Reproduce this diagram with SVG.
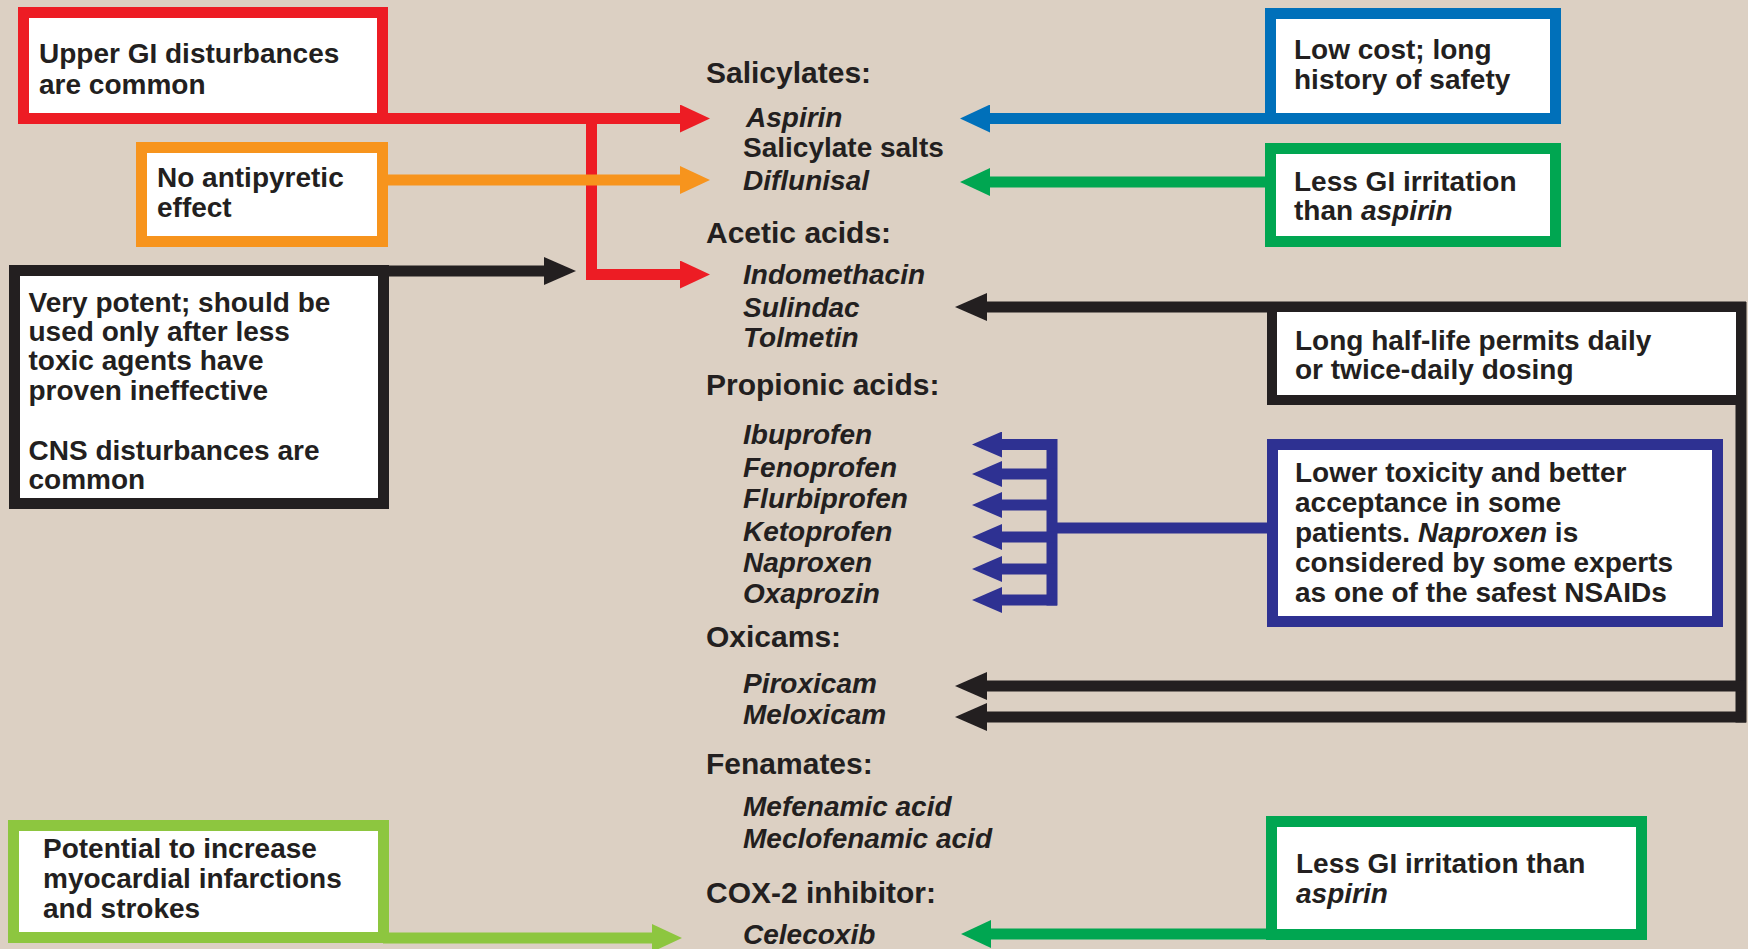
<svg xmlns="http://www.w3.org/2000/svg" width="1748" height="949" viewBox="0 0 1748 949">
<style>
  .bg { fill: #dcd0c3; }
  .box { fill: #ffffff; stroke-width: 11; }
  .t { font-family: "Liberation Sans", Arial, sans-serif; font-weight: bold; fill: #231f20; }
  .bt { font-size: 28px; }
  .hd { font-size: 30px; }
  .dr { font-size: 28px; font-style: italic; }
  .up { font-style: normal; }
  .it { font-style: italic; }
  .ln { fill: none; stroke-width: 11; stroke-linecap: butt; stroke-linejoin: miter; }
  .red { stroke: #ed1c24; }
  .orange { stroke: #f7941d; }
  .blue { stroke: #0070ba; }
  .green { stroke: #00a651; }
  .navy { stroke: #2e3192; }
  .lgreen { stroke: #8dc63f; }
  .black { stroke: #231f20; }
</style>
<defs>
  <marker id="ah-red" viewBox="0 -14 30 28" refX="1" refY="0" markerWidth="30" markerHeight="28" markerUnits="userSpaceOnUse" orient="auto"><path d="M0,-14 L30,0 L0,14 Z" fill="#ed1c24"/></marker>
  <marker id="ah-orange" viewBox="0 -14 30 28" refX="1" refY="0" markerWidth="30" markerHeight="28" markerUnits="userSpaceOnUse" orient="auto"><path d="M0,-14 L30,0 L0,14 Z" fill="#f7941d"/></marker>
  <marker id="ah-blue" viewBox="0 -14 30 28" refX="1" refY="0" markerWidth="30" markerHeight="28" markerUnits="userSpaceOnUse" orient="auto"><path d="M0,-14 L30,0 L0,14 Z" fill="#0070ba"/></marker>
  <marker id="ah-green" viewBox="0 -14 30 28" refX="1" refY="0" markerWidth="30" markerHeight="28" markerUnits="userSpaceOnUse" orient="auto"><path d="M0,-14 L30,0 L0,14 Z" fill="#00a651"/></marker>
  <marker id="ah-navy" viewBox="0 -13 30 26" refX="1" refY="0" markerWidth="30" markerHeight="26" markerUnits="userSpaceOnUse" orient="auto"><path d="M0,-13 L30,0 L0,13 Z" fill="#2e3192"/></marker>
  <marker id="ah-lgreen" viewBox="0 -14 30 28" refX="1" refY="0" markerWidth="30" markerHeight="28" markerUnits="userSpaceOnUse" orient="auto"><path d="M0,-14 L30,0 L0,14 Z" fill="#8dc63f"/></marker>
  <marker id="ah-black" viewBox="0 -14 32 28" refX="1" refY="0" markerWidth="32" markerHeight="28" markerUnits="userSpaceOnUse" orient="auto"><path d="M0,-14 L32,0 L0,14 Z" fill="#231f20"/></marker>
</defs>
<rect class="bg" x="0" y="0" width="1748" height="949"/>

<g id="connectors">
  <path class="ln red" d="M383,118.5 H681" marker-end="url(#ah-red)"/>
  <path class="ln red" d="M591.5,113 V274.5 H681" marker-end="url(#ah-red)"/>
  <path class="ln orange" d="M383,180 H681" marker-end="url(#ah-orange)"/>
  <path class="ln black" d="M383,271 H545" marker-end="url(#ah-black)"/>
  <path class="ln blue" d="M1270,118.5 H989" marker-end="url(#ah-blue)"/>
  <path class="ln green" d="M1270,182 H989" marker-end="url(#ah-green)"/>
  <path class="ln black" d="M1746,307 H986" marker-end="url(#ah-black)"/>
  <path class="ln black" d="M1741,302 V722.5"/>
  <path class="ln black" d="M1746,686 H986" marker-end="url(#ah-black)"/>
  <path class="ln black" d="M1746,717 H986" marker-end="url(#ah-black)"/>
  <path class="ln navy" d="M1270,528 H1052"/>
  <path class="ln navy" d="M1052,439 V605.5"/>
  <path class="ln navy" d="M1057,444.5 H1001" marker-end="url(#ah-navy)"/>
  <path class="ln navy" d="M1057,474 H1001" marker-end="url(#ah-navy)"/>
  <path class="ln navy" d="M1057,505 H1001" marker-end="url(#ah-navy)"/>
  <path class="ln navy" d="M1057,537 H1001" marker-end="url(#ah-navy)"/>
  <path class="ln navy" d="M1057,569 H1001" marker-end="url(#ah-navy)"/>
  <path class="ln navy" d="M1057,600 H1001" marker-end="url(#ah-navy)"/>
  <path class="ln green" d="M1270,934 H990" marker-end="url(#ah-green)"/>
  <path class="ln lgreen" d="M383,938 H653" marker-end="url(#ah-lgreen)"/>
</g>

<g id="node-upper-gi">
  <rect class="box red" x="23.5" y="12.5" width="359" height="106"/>
  <text class="t bt" x="39" y="63">Upper GI disturbances</text>
  <text class="t bt" x="39" y="93.5">are common</text>
</g>

<g id="node-no-antipyretic">
  <rect class="box orange" x="141.5" y="147.5" width="241" height="94"/>
  <text class="t bt" x="157" y="187">No antipyretic</text>
  <text class="t bt" x="157" y="217">effect</text>
</g>

<g id="node-very-potent">
  <rect class="box black" x="14.5" y="270.5" width="369" height="233"/>
  <text class="t bt" x="28.5" y="311.5">Very potent; should be</text>
  <text class="t bt" x="28.5" y="340.5">used only after less</text>
  <text class="t bt" x="28.5" y="370">toxic agents have</text>
  <text class="t bt" x="28.5" y="400">proven ineffective</text>
  <text class="t bt" x="28.5" y="460">CNS disturbances are</text>
  <text class="t bt" x="28.5" y="489">common</text>
</g>

<g id="node-cardio">
  <rect class="box lgreen" x="13.5" y="825.5" width="370" height="112"/>
  <text class="t bt" x="43" y="858">Potential to increase</text>
  <text class="t bt" x="43" y="888">myocardial infarctions</text>
  <text class="t bt" x="43" y="918">and strokes</text>
</g>

<g id="node-low-cost">
  <rect class="box blue" x="1270.5" y="13.5" width="285" height="105"/>
  <text class="t bt" x="1294" y="59">Low cost; long</text>
  <text class="t bt" x="1294" y="89">history of safety</text>
</g>

<g id="node-less-gi-1">
  <rect class="box green" x="1270.5" y="148.5" width="285" height="93"/>
  <text class="t bt" x="1294" y="190.5">Less GI irritation</text>
  <text class="t bt" x="1294" y="220">than <tspan class="it">aspirin</tspan></text>
</g>

<g id="node-long-half-life">
  <rect class="box black" x="1272" y="307" width="469" height="93" style="stroke-width:10"/>
  <text class="t bt" x="1295" y="350">Long half-life permits daily</text>
  <text class="t bt" x="1295" y="379">or twice-daily dosing</text>
</g>

<g id="node-lower-toxicity">
  <rect class="box navy" x="1272.5" y="444.5" width="445" height="177"/>
  <text class="t bt" x="1295" y="482">Lower toxicity and better</text>
  <text class="t bt" x="1295" y="512">acceptance in some</text>
  <text class="t bt" x="1295" y="542">patients. <tspan class="it">Naproxen</tspan> is</text>
  <text class="t bt" x="1295" y="572">considered by some experts</text>
  <text class="t bt" x="1295" y="602">as one of the safest NSAIDs</text>
</g>

<g id="node-less-gi-2">
  <rect class="box green" x="1271.5" y="821.5" width="370" height="113"/>
  <text class="t bt" x="1296" y="873">Less GI irritation than</text>
  <text class="t bt it" x="1296" y="903">aspirin</text>
</g>

<g id="node-salicylates">
  <text class="t hd" x="706" y="83">Salicylates:</text>
  <text class="t dr" x="746" y="127">Aspirin</text>
  <text class="t dr up" x="743" y="157">Salicylate salts</text>
  <text class="t dr" x="743" y="190">Diflunisal</text>
</g>

<g id="node-acetic">
  <text class="t hd" x="706" y="243">Acetic acids:</text>
  <text class="t dr" x="743" y="284">Indomethacin</text>
  <text class="t dr" x="743" y="316.5">Sulindac</text>
  <text class="t dr" x="743" y="346.5">Tolmetin</text>
</g>

<g id="node-propionic">
  <text class="t hd" x="706" y="395">Propionic acids:</text>
  <text class="t dr" x="743" y="444">Ibuprofen</text>
  <text class="t dr" x="743" y="476.5">Fenoprofen</text>
  <text class="t dr" x="743" y="508">Flurbiprofen</text>
  <text class="t dr" x="743" y="541">Ketoprofen</text>
  <text class="t dr" x="743" y="572">Naproxen</text>
  <text class="t dr" x="743" y="603">Oxaprozin</text>
</g>

<g id="node-oxicams">
  <text class="t hd" x="706" y="647">Oxicams:</text>
  <text class="t dr" x="743" y="693">Piroxicam</text>
  <text class="t dr" x="743" y="724">Meloxicam</text>
</g>

<g id="node-fenamates">
  <text class="t hd" x="706" y="774">Fenamates:</text>
  <text class="t dr" x="743" y="816">Mefenamic acid</text>
  <text class="t dr" x="743" y="848">Meclofenamic acid</text>
</g>

<g id="node-cox2">
  <text class="t hd" x="706" y="903">COX-2 inhibitor:</text>
  <text class="t dr" x="743" y="944">Celecoxib</text>
</g>
</svg>
